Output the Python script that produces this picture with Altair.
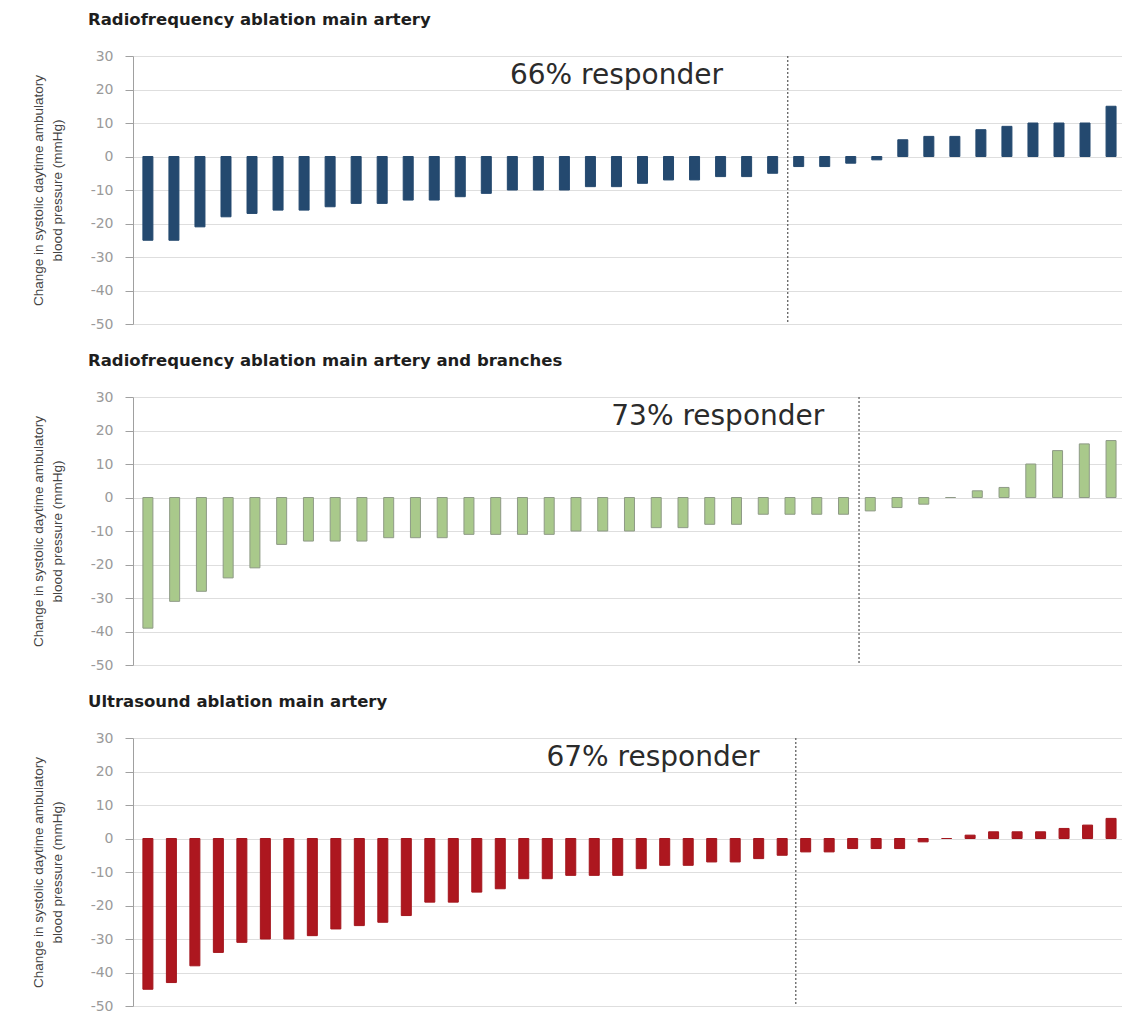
import altair as alt
import pandas as pd

# ---- data ----
panel_titles = [
    "Radiofrequency ablation main artery",
    "Radiofrequency ablation main artery and branches",
    "Ultrasound ablation main artery",
]
rf_main = [-25, -25, -21, -18, -17, -16, -16, -15, -14, -14, -13, -13, -12, -11, -10,
           -10, -10, -9, -9, -8, -7, -7, -6, -6, -5,
           -3, -3, -2, -1, 5, 6, 6, 8, 9, 10, 10, 10, 15]
rf_branches = [-39, -31, -28, -24, -21, -14, -13, -13, -13, -12, -12, -12, -11, -11, -11,
               -11, -10, -10, -10, -9, -9, -8, -8, -5, -5, -5, -5,
               -4, -3, -2, 0, 2, 3, 10, 14, 16, 17]
us_main = [-45, -43, -38, -34, -31, -30, -30, -29, -27, -26, -25, -23, -19, -19, -16,
           -15, -12, -12, -11, -11, -11, -9, -8, -8, -7, -7, -6, -5,
           -4, -4, -3, -3, -3, -1, 0, 1, 2, 2, 2, 3, 4, 6]
series = [rf_main, rf_branches, us_main]
responder_counts = [25, 27, 28]
responder_labels = ["66% responder", "73% responder", "67% responder"]
label_x = [18.0, 21.3, 21.5]
label_y = [21.5, 21.5, 21.5]
bar_colors = ["#24496f", "#a9c98b", "#ad171f"]
bar_strokes = ["#24496f", "#8e9a86", "#a3161d"]
y_ticks = [-50, -40, -30, -20, -10, 0, 10, 20, 30]
y_title = ["Change in systolic daytime ambulatory", "blood pressure (mmHg)"]

W, H = 989, 268
LEFT_GAP, RIGHT_GAP = 10, 6


def panel(i):
    vals = series[i]
    n = len(vals)
    ppu = (W - LEFT_GAP - RIGHT_GAP) / (n - 1)
    df = pd.DataFrame({"idx": list(range(n)), "value": vals})
    xscale = alt.Scale(domain=[-LEFT_GAP / ppu, (n - 1) + RIGHT_GAP / ppu], nice=False, zero=False)
    yscale = alt.Scale(domain=[-50, 30], nice=False)
    yaxis = alt.Axis(values=y_ticks, title=y_title, labelExpr="'' + datum.value")

    bars = alt.Chart(df).mark_bar(
        size=10, color=bar_colors[i], stroke=bar_strokes[i], strokeWidth=1
    ).encode(
        x=alt.X("idx:Q", scale=xscale, axis=None),
        y=alt.Y("value:Q", scale=yscale, axis=yaxis),
    )

    rule_df = pd.DataFrame({"cut": [responder_counts[i] - 0.42], "top": [30], "bottom": [-50]})
    rule = alt.Chart(rule_df).mark_rule(
        color="#555555", strokeDash=[2, 2], strokeWidth=1.2
    ).encode(
        x=alt.X("cut:Q", scale=xscale, axis=None),
        y=alt.Y("top:Q", scale=yscale, axis=yaxis),
        y2="bottom:Q",
    )

    txt_df = pd.DataFrame({"tx": [label_x[i]], "ty": [label_y[i]], "label": [responder_labels[i]]})
    txt = alt.Chart(txt_df).mark_text(
        font="DejaVu Sans", fontSize=28, align="center", baseline="alphabetic", color="#2b2b2b"
    ).encode(
        x=alt.X("tx:Q", scale=xscale, axis=None),
        y=alt.Y("ty:Q", scale=yscale, axis=yaxis),
        text="label:N",
    )

    return alt.layer(rule, bars, txt).properties(
        width=W,
        height=H,
        title=alt.TitleParams(
            text=panel_titles[i],
            anchor="start",
            frame="group",
            dx=-45,
            font="DejaVu Sans",
            fontSize=16.5,
            fontWeight="bold",
            color="#1e1e1e",
            offset=21,
        ),
    )


chart = alt.vconcat(panel(0), panel(1), panel(2), spacing=21).properties(
    padding={"left": 23, "top": 3, "right": 0, "bottom": 0}
).configure_view(
    stroke=None
).configure_axis(
    domainColor="#a0a0a0",
    tickColor="#a0a0a0",
    tickSize=8,
    labelFont="DejaVu Sans",
    labelFontSize=14,
    labelColor="#9a9a9a",
    labelPadding=12,
    gridColor="#dedede",
    titleFont="Liberation Sans",
    titleFontSize=13.5,
    titleFontWeight="normal",
    titleColor="#444444",
    titlePadding=26,
    titleLineHeight=19,
)

chart.save("out.html", embed_options={"renderer": "svg", "actions": False})
